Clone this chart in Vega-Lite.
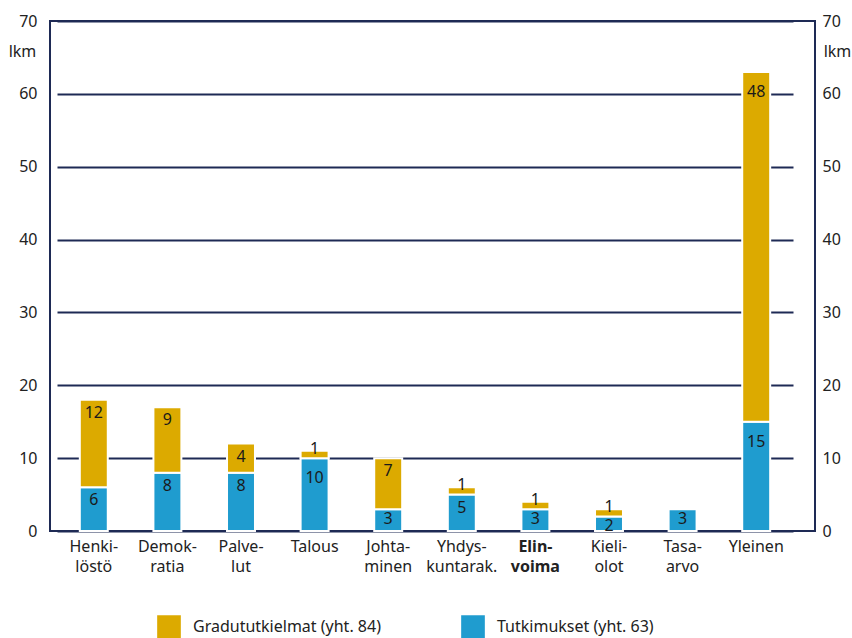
{
  "$schema": "https://vega.github.io/schema/vega-lite/v6.json",
  "width": 765,
  "height": 510,
  "autosize": "none",
  "padding": {"left": 50, "top": 21, "right": 37, "bottom": 107},
  "background": "white",
  "config": {
    "font": "Noto Sans",
    "view": {"stroke": "#1e2a55", "strokeWidth": 2}
  },
  "data": {
    "values": [
      {"category": "Henki-|löstö", "series": "Tutkimukset (yht. 63)", "value": 6},
      {"category": "Demok-|ratia", "series": "Tutkimukset (yht. 63)", "value": 8},
      {"category": "Palve-|lut", "series": "Tutkimukset (yht. 63)", "value": 8},
      {"category": "Talous", "series": "Tutkimukset (yht. 63)", "value": 10},
      {"category": "Johta-|minen", "series": "Tutkimukset (yht. 63)", "value": 3},
      {"category": "Yhdys-|kuntarak.", "series": "Tutkimukset (yht. 63)", "value": 5},
      {"category": "Elin-|voima", "series": "Tutkimukset (yht. 63)", "value": 3},
      {"category": "Kieli-|olot", "series": "Tutkimukset (yht. 63)", "value": 2},
      {"category": "Tasa-|arvo", "series": "Tutkimukset (yht. 63)", "value": 3},
      {"category": "Yleinen", "series": "Tutkimukset (yht. 63)", "value": 15},
      {"category": "Henki-|löstö", "series": "Gradututkielmat (yht. 84)", "value": 12},
      {"category": "Demok-|ratia", "series": "Gradututkielmat (yht. 84)", "value": 9},
      {"category": "Palve-|lut", "series": "Gradututkielmat (yht. 84)", "value": 4},
      {"category": "Talous", "series": "Gradututkielmat (yht. 84)", "value": 1},
      {"category": "Johta-|minen", "series": "Gradututkielmat (yht. 84)", "value": 7},
      {"category": "Yhdys-|kuntarak.", "series": "Gradututkielmat (yht. 84)", "value": 1},
      {"category": "Elin-|voima", "series": "Gradututkielmat (yht. 84)", "value": 1},
      {"category": "Kieli-|olot", "series": "Gradututkielmat (yht. 84)", "value": 1},
      {"category": "Yleinen", "series": "Gradututkielmat (yht. 84)", "value": 48}
    ]
  },
  "transform": [
    {"stack": "value", "groupby": ["category"], "sort": [{"field": "series", "order": "descending"}], "as": ["v0", "v1"]}
  ],
  "encoding": {
    "x": {
      "field": "category",
      "type": "nominal",
      "scale": {
        "domain": ["Henki-|löstö", "Demok-|ratia", "Palve-|lut", "Talous", "Johta-|minen", "Yhdys-|kuntarak.", "Elin-|voima", "Kieli-|olot", "Tasa-|arvo", "Yleinen"],
        "range": [7, 743],
        "paddingInner": 0.62,
        "paddingOuter": 0.31
      },
      "axis": {
        "title": null,
        "labelAngle": 0,
        "domain": false,
        "ticks": false,
        "labelPadding": 7,
        "labelFontSize": 16,
        "labelLineHeight": 20,
        "labelColor": "#222222",
        "labelExpr": "split(datum.label, '|')",
        "labelFontWeight": {"condition": {"test": "datum.value === 'Elin-|voima'", "value": "bold"}, "value": "normal"}
      }
    }
  },
  "layer": [
    {
      "mark": {"type": "bar", "stroke": "white", "strokeWidth": 2},
      "encoding": {
        "y": {
          "field": "v1",
          "type": "quantitative",
          "scale": {"domain": [0, 70]},
          "axis": {
            "orient": "left",
            "values": [0, 10, 20, 30, 40, 50, 60, 70],
            "grid": true,
            "gridColor": "#1e2a55",
            "gridWidth": 2,
            "domain": false,
            "ticks": false,
            "labelPadding": 13,
            "labelFontSize": 16,
            "labelColor": "#222222",
            "title": "lkm",
            "titleAngle": 0,
            "titleX": -28,
            "titleY": 30,
            "titleAlign": "center",
            "titleBaseline": "middle",
            "titleFontSize": 16,
            "titleFontWeight": "normal",
            "titleColor": "#222222"
          }
        },
        "y2": {"field": "v0"},
        "color": {
          "field": "series",
          "type": "nominal",
          "scale": {"domain": ["Gradututkielmat (yht. 84)", "Tutkimukset (yht. 63)"], "range": ["#dcaa00", "#1f9ccf"]},
          "legend": {
            "title": null,
            "orient": "none",
            "direction": "horizontal",
            "legendX": 107,
            "legendY": 594,
            "symbolType": "square",
            "symbolSize": 560,
            "symbolStrokeWidth": 0,
            "symbolOpacity": 1,
            "labelFontSize": 16,
            "labelColor": "#222222",
            "labelOffset": 12,
            "columnPadding": 80,
            "labelLimit": 300
          }
        }
      }
    },
    {
      "transform": [{"filter": "datum.value == 1"}],
      "mark": {"type": "text", "fontSize": 16, "color": "#1a1a1a", "baseline": "middle", "dy": -2},
      "encoding": {
        "y": {
          "field": "v1",
          "type": "quantitative",
          "scale": {"domain": [0, 70]},
          "axis": {
            "orient": "right",
            "values": [0, 10, 20, 30, 40, 50, 60, 70],
            "grid": false,
            "domain": false,
            "ticks": false,
            "labelPadding": 7,
            "labelFontSize": 16,
            "labelColor": "#222222",
            "title": "lkm",
            "titleAngle": 0,
            "titleX": 22,
            "titleY": 30,
            "titleAlign": "center",
            "titleBaseline": "middle",
            "titleFontSize": 16,
            "titleFontWeight": "normal",
            "titleColor": "#222222"
          }
        },
        "text": {"field": "value", "type": "quantitative"}
      }
    },
    {
      "transform": [{"filter": "datum.value >= 2 && datum.value <= 3"}],
      "mark": {"type": "text", "fontSize": 16, "color": "#1a1a1a", "baseline": "middle", "dy": 10},
      "encoding": {
        "y": {"field": "v1", "type": "quantitative", "scale": {"domain": [0, 70]}, "axis": null},
        "text": {"field": "value", "type": "quantitative"}
      }
    },
    {
      "transform": [{"filter": "(datum.value >= 4 && datum.value <= 9) || datum.value == 12"}],
      "mark": {"type": "text", "fontSize": 16, "color": "#1a1a1a", "baseline": "middle", "dy": 13},
      "encoding": {
        "y": {"field": "v1", "type": "quantitative", "scale": {"domain": [0, 70]}, "axis": null},
        "text": {"field": "value", "type": "quantitative"}
      }
    },
    {
      "transform": [{"filter": "datum.value == 10 || datum.value >= 15"}],
      "mark": {"type": "text", "fontSize": 16, "color": "#1a1a1a", "baseline": "middle", "dy": 20},
      "encoding": {
        "y": {"field": "v1", "type": "quantitative", "scale": {"domain": [0, 70]}, "axis": null},
        "text": {"field": "value", "type": "quantitative"}
      }
    }
  ],
  "resolve": {"axis": {"y": "independent"}}
}
